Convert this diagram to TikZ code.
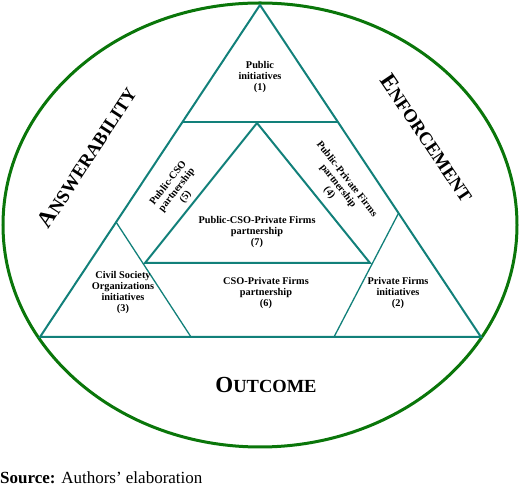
\documentclass[tikz,border=0pt]{standalone}
\usepackage{fontspec}
\setmainfont{Liberation Serif}
\usepackage{xcolor}
\usepackage{tikz}
\usetikzlibrary{calc}
\definecolor{rimgreen}{RGB}{10,118,10}
\definecolor{teal}{RGB}{18,128,122}
\newcommand{\fakesc}[2]{{\fontsize{23}{23}\selectfont #1}{\fontsize{18.5}{18.5}\selectfont #2}}

\begin{document}
\begin{tikzpicture}[x=1pt,y=1pt,
	rim/.style={draw=rimgreen,line width=3pt},
	edge/.style={draw=teal,line width=2pt},
	thinedge/.style={draw=teal,line width=1.3pt},
	lbl/.style={align=center,inner sep=0pt,font=\bfseries\fontsize{10.3}{11}\selectfont},
	ttl/.style={inner sep=0pt,font=\bfseries}]
		\useasboundingbox (0,0) rectangle (520,487);
		\draw[rim] (260,262) ellipse [x radius=257,y radius=222];
	
		% outer triangle
		\coordinate (A)  at (260,482);
		\coordinate (BL) at (40,150);
		\coordinate (BR) at (481,150);
		\coordinate (h1) at ($(A)!0.352!(BL)$);
		\coordinate (h2) at ($(A)!0.352!(BR)$);
		% inner triangle
		\coordinate (iA)  at (257,364);
		\coordinate (iBL) at (145,224);
		\coordinate (iBR) at (370,224);
		% corner triangles
		\coordinate (la) at ($(A)!0.654!(BL)$);
		\coordinate (lb) at (191,150);
		\coordinate (ra) at ($(A)!0.627!(BR)$);
		\coordinate (rb) at (334,150);
	
		\draw[edge] (A) -- (BL) -- (BR) -- cycle;
		\draw[edge] (h1) -- (h2);
		\draw[edge] (iA) -- (iBL) -- (iBR) -- cycle;
		\draw[thinedge] (la) -- (lb);
		\draw[thinedge] (ra) -- (rb);
	
		\node[lbl] (pub)   at (260,410) {Public\\initiatives\\(1)};
		\node[lbl,rotate=52]  (pcso) at (177,297) {Public-CSO\\partnership\\(5)};
		\node[lbl,rotate=-52] (ppf)  at (338,301) {Public-Private Firms\\partnership\\(4)};
		\node[lbl] (pcpf)  at (257,255) {Public-CSO-Private Firms\\partnership\\(7)};
		\node[lbl] (cso)   at (123,194) {Civil Society\\Organizations\\initiatives\\(3)};
		\node[lbl] (csopf) at (266,194) {CSO-Private Firms\\partnership\\(6)};
		\node[lbl] (pf)    at (398,194) {Private Firms\\initiatives\\(2)};
	
		\node[ttl,rotate=57]  (answ) at (87,330)  {\fakesc{A}{NSWERABILITY}};
		\node[ttl,rotate=-56] (enf)  at (427,349) {\fakesc{E}{NFORCEMENT}};
		\node[ttl]            (outc) at (266,102) {\fakesc{O}{UTCOME}};
	
		\node[anchor=base west,inner sep=0pt,font=\fontsize{17}{17}\selectfont] (src) at (0,3) {\textbf{Source:} Authors’ elaboration};
	\end{tikzpicture}
\end{document}
